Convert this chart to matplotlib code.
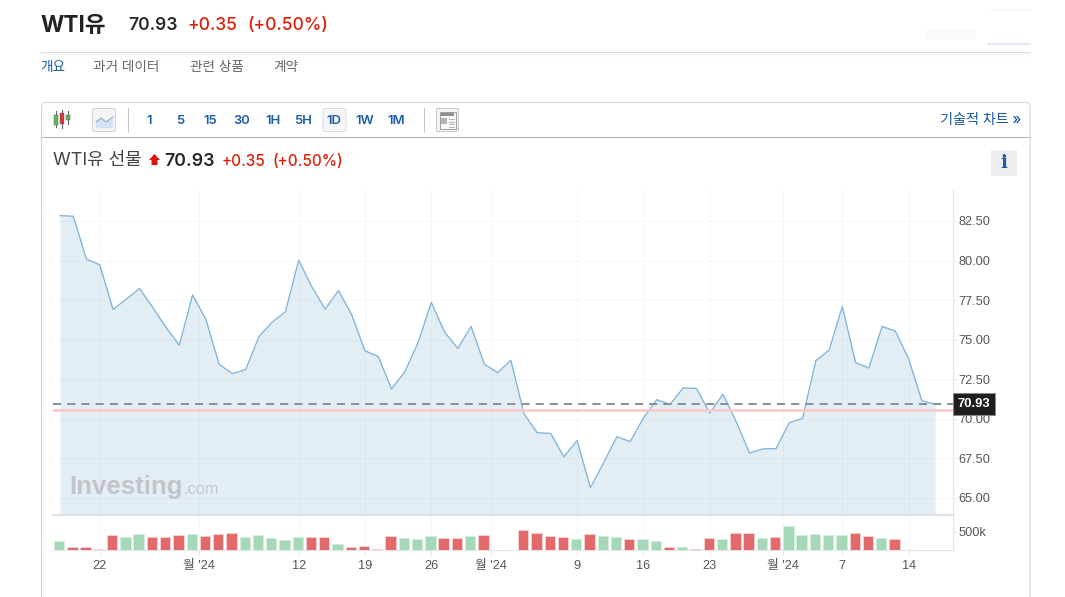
import numpy as np
import matplotlib
matplotlib.use("Agg")
import matplotlib.pyplot as plt
from matplotlib.patches import Rectangle, FancyBboxPatch, Polygon

W, H = 1065, 597
FONT = ['Liberation Sans', 'Noto Sans CJK KR', 'DejaVu Sans']
UIFONT = ['Inter', 'Noto Sans CJK KR', 'DejaVu Sans']
plt.rcParams['font.family'] = FONT

# ---- data ----
prices = [82.84, 82.80, 80.09, 79.73, 76.91, 77.56, 78.23, 77.03, 75.77, 74.65,
          77.83, 76.29, 73.45, 72.86, 73.11, 75.19, 76.11, 76.76, 80.02, 78.32,
          76.93, 78.10, 76.58, 74.30, 73.94, 71.89, 72.97, 74.80, 77.36, 75.49,
          74.45, 75.84, 73.46, 72.92, 73.70, 70.30, 69.12, 69.08, 67.60, 68.63,
          65.65, 67.23, 68.88, 68.56, 70.06, 71.21, 70.91, 71.95, 71.92, 70.36,
          71.56, 69.81, 67.84, 68.10, 68.12, 69.76, 70.03, 73.67, 74.34, 77.09,
          73.55, 73.21, 75.84, 75.54, 73.79, 71.14, 70.93]
volumes = [236, 82, 82, 27, 409, 355, 445, 355, 355, 409,
           445, 382, 445, 473, 355, 409, 327, 264, 355, 355,
           355, 173, 82, 109, 27, 382, 327, 300, 382, 327,
           327, 382, 409, 0, 0, 536, 473, 382, 355, 291,
           445, 382, 355, 291, 291, 236, 82, 82, 27, 327,
           291, 473, 473, 327, 355, 655, 409, 445, 409, 409,
           473, 382, 327, 291]
vol_up = [0, 1, 1, 1, 1, 0, 0, 1, 1, 1,
          0, 1, 1, 1, 0, 0, 0, 0, 0, 1,
          1, 0, 1, 1, 1, 1, 0, 0, 0, 1,
          1, 0, 1, 1, 1, 1, 1, 1, 1, 0,
          1, 0, 0, 1, 0, 0, 1, 0, 1, 1,
          0, 1, 1, 0, 1, 0, 0, 0, 0, 0,
          1, 1, 0, 1]
price_ticks = [65.0, 67.5, 70.0, 72.5, 75.0, 77.5, 80.0, 82.5]
x_tick_pos = [3, 10.45, 18, 23, 28, 32.5, 39, 44, 49, 54.55, 59, 64]
x_tick_labels = ['22', "월 '24", '12', '19', '26', "월 '24", '9', '16', '23', "월 '24", '7', '14']
last_price = 70.93
prev_close = 70.58
vol_ticks = [500]
vol_tick_labels = ['500k']
intervals = ['1', '5', '15', '30', '1H', '5H', '1D', '1W', '1M']
tabs = ['개요', '과거 데이터', '관련 상품', '계약']

# ---- layout ----
fig = plt.figure(figsize=(W / 100, H / 100), dpi=100, facecolor='white')


def rect(l, t, r, b):
    return [l / W, 1 - b / H, (r - l) / W, (b - t) / H]


ui = fig.add_axes([0, 0, 1, 1], zorder=0)
ui.set_xlim(0, W)
ui.set_ylim(H, 0)
ui.axis('off')


def T(x, y, s, size, color='#333333', weight='normal', ha='left', **kw):
    return ui.text(x, y, s, fontsize=size * 0.72, color=color, fontweight=weight,
                   ha=ha, va='center_baseline', family=UIFONT, **kw)


RED = '#e01f0a'
BLUE = '#1a5ca8'
# header
T(40, 24, 'WTI유', 22.5, '#222222', 'bold')
T(128.5, 24, '70.93', 17.5, '#2a2a2a', 'semibold')
T(187, 24, '+0.35', 17.5, RED, 'medium')
T(247.5, 24, '(+0.50%)', 17.5, RED, 'medium')
for i in range(7):
    ui.plot([40, 1030], [52 + i, 52 + i], color='#000000', alpha=0.05 * (1 - i / 7) ** 2, lw=0.72)
ui.plot([41, 1030], [51.5, 51.5], color='#dcdcdc', lw=0.72)
# faint smudges at the top right
ui.add_patch(FancyBboxPatch((926, 30), 50, 10, boxstyle='round,pad=0,rounding_size=3',
                            fc='#f9f9f9', ec='none'))
ui.plot([990, 1030], [10, 10], color='#eef1f6', lw=0.72)
ui.plot([988, 1030], [44, 44], color='#e4e9f4', lw=1.6)

# tabs
for s, x, c in zip(tabs, [40.5, 93, 190, 273], [BLUE, '#666666', '#666666', '#666666']):
    T(x, 66, s, 13.6, c)

# card
ui.add_patch(FancyBboxPatch((41.5, 102.5), 988.5, 600, boxstyle='round,pad=0,rounding_size=4',
                            fc='white', ec='#d2d2d2', lw=0.72))
ui.plot([41.5, 1030], [136.5, 136.5], color='#b4b4b4', lw=0.72)

# toolbar: candle icon
for x, t0, t1, b0, b1, c in [(56, 111, 127, 115, 125, '#5cb85c'), (62, 110, 128, 113, 124, '#d9363e'),
                             (68, 111, 124, 115, 120, '#5cb85c')]:
    ui.plot([x, x], [t0, t1], color='#666666', lw=0.8)
    ui.add_patch(Rectangle((x - 2, b0), 4, b1 - b0, fc=c, ec='#555555', lw=0.3, zorder=3))
# toolbar: area icon button
ui.add_patch(FancyBboxPatch((92.5, 108.5), 23, 23, boxstyle='round,pad=0,rounding_size=2',
                            fc='#f3f4f6', ec='#d3d3d3', lw=0.72))
ui.add_patch(Polygon([(96, 122), (101, 118), (106, 122), (113, 117), (113, 128), (96, 128)],
                     fc='#d5e2f2', ec='none'))
ui.plot([96, 101, 106, 113], [122, 118, 122, 117], color='#8eaed2', lw=0.8)
ui.plot([127.5, 127.5], [108, 132], color='#c4c4c4', lw=0.72)
ui.plot([423.5, 423.5], [108, 132], color='#c4c4c4', lw=0.72)
ui.add_patch(FancyBboxPatch((323, 108.5), 23, 23, boxstyle='round,pad=0,rounding_size=2',
                            fc='#f6f6f6', ec='#dcdcdc', lw=0.72))
for s, x in zip(intervals, [149.5, 180, 210.5, 241.5, 272.5, 303.5, 334, 365, 396]):
    T(x, 119.5, s, 13, BLUE, 'semibold', ha='center')
# toolbar: layout icon
ui.add_patch(FancyBboxPatch((436.5, 108.5), 22, 23, boxstyle='round,pad=0,rounding_size=1',
                            fc='#f3f3f3', ec='#c9c9c9', lw=0.72))
ui.add_patch(Rectangle((439.5, 111.5), 16, 17, fc='#fbfbfb', ec='#8f8f8f', lw=0.6))
ui.add_patch(Rectangle((441, 113), 13, 3, fc='#8f8f8f', ec='none'))
ui.add_patch(Rectangle((441, 118), 6, 6, fc='#b4b4b4', ec='none'))
for yy in [119, 121.5, 124, 126.5]:
    ui.plot([448.5, 454], [yy, yy], color='#aaaaaa', lw=0.6)
T(1021, 118.5, '기술적 차트 »', 14.2, BLUE, 'medium', ha='right')

# instrument line
T(53, 159, 'WTI유 선물', 18, '#444444')
ui.add_patch(Polygon([(154.5, 154), (160, 160), (157.5, 160), (157.5, 165), (151.5, 165), (151.5, 160), (149, 160)],
                     fc='#d8160a', ec='none'))
T(164, 160, '70.93', 17.8, '#262626', 'semibold')
T(221.5, 160, '+0.35', 15.3, RED, 'medium')
T(272.5, 160, '(+0.50%)', 15.3, RED, 'medium')
ui.add_patch(Rectangle((991, 150), 26, 26, fc='#efefef', ec='none'))
ui.text(1004, 163.5, 'i', fontsize=13, fontweight='bold', family='DejaVu Serif', color=BLUE,
        ha='center', va='center')

# ---- price chart ----
X0, DX = 60.0, 13.26          # pixel position of the first point, pixel step
P0, PPU = 498.0, 15.83        # pixel of price 65, pixels per unit
L, R, T_, B_ = 53, 953, 190, 515
ax = fig.add_axes(rect(L, T_, R, B_), zorder=1)
ax.patch.set_alpha(0)
ax.set_xlim((L - X0) / DX, (R - X0) / DX)
ax.set_ylim(65 - (B_ - P0) / PPU, 65 + (P0 - T_) / PPU)
xs = np.arange(len(prices))
ax.fill_between(xs, prices, ax.get_ylim()[0], color='#e3edf4', lw=0, zorder=1)
ax.plot(xs, prices, color='#80b4da', lw=0.95, zorder=3)
ax.set_xticks(x_tick_pos)
ax.set_yticks(price_ticks)
ax.set_yticklabels([f'{v:.2f}' for v in price_ticks])
ax.yaxis.tick_right()
ax.tick_params(axis='x', length=0, labelbottom=False)
ax.tick_params(axis='y', length=3, width=0.72, color='#e6e8ef', labelsize=9.2, labelcolor='#555555', pad=1.2)
ax.grid(True, color='#7f93a8', alpha=0.07, lw=0.72, zorder=2)
for s in ['top', 'left']:
    ax.spines[s].set_visible(False)
ax.spines['right'].set_color('#e3e6ee')
ax.spines['bottom'].set_color('#dfe2e6')
ax.spines['bottom'].set_linewidth(1.6)
ax.axhline(prev_close, color='#fbd2d2', lw=1.9, zorder=4)
ax.axhline(prev_close, color='#f4b0b0', lw=0.4, zorder=4)
ax.axhline(last_price, color='#8b8f93', lw=1.4, dashes=(4.2, 3.1), zorder=5)
ax.text(1 + 4.8 / (R - L), last_price, f'{last_price:.2f}', transform=ax.get_yaxis_transform(),
        fontsize=9.4, fontweight='bold', color='white', ha='left', va='center', zorder=10, clip_on=False,
        bbox=dict(boxstyle='square,pad=0.38', fc='#1e1e1e', ec='#8a8a8a', lw=0.7))

# watermark
ax.text(0.0185, 0.0865, 'Investing', transform=ax.transAxes, fontsize=18.6, fontweight='bold', color='#c2c4c8',
        ha='left', va='center', zorder=6)
ax.text(0.1455, 0.0785, '.com', transform=ax.transAxes, fontsize=11.8, color='#c6c8cc',
        ha='left', va='center', zorder=6)

# ---- volume chart ----
vax = fig.add_axes(rect(L, 516, R, 550), zorder=1)
vax.patch.set_alpha(0)
vax.set_xlim(ax.get_xlim())
vax.set_ylim(0, 34 * 500 / 18.3)
BAR_SHIFT = -0.07
vol_colors = ['#e26a6a' if u else '#a5d8b6' for u in vol_up]
vol_edges = ['#f7d3d3' if u else '#d3eedd' for u in vol_up]
vax.bar(np.arange(len(volumes)) + BAR_SHIFT, volumes, width=0.78, color=vol_colors, edgecolor=vol_edges,
        lw=0.6, zorder=3)
vax.set_xticks(x_tick_pos)
vax.set_xticklabels(x_tick_labels)
vax.set_yticks(vol_ticks)
vax.set_yticklabels(vol_tick_labels)
vax.yaxis.tick_right()
vax.tick_params(axis='x', length=4, width=0.72, color='#e6e8ef', labelsize=9.2, labelcolor='#555555', pad=3.5)
vax.tick_params(axis='y', length=3, width=0.72, color='#e6e8ef', labelsize=9.2, labelcolor='#555555', pad=1.2)
vax.grid(True, axis='x', color='#7f93a8', alpha=0.07, lw=0.72, zorder=1)
for s in ['top', 'left']:
    vax.spines[s].set_visible(False)
vax.spines['right'].set_color('#e3e6ee')
vax.spines['bottom'].set_color('#e3e6ee')

fig.savefig('out.png', dpi=100, facecolor='white')
